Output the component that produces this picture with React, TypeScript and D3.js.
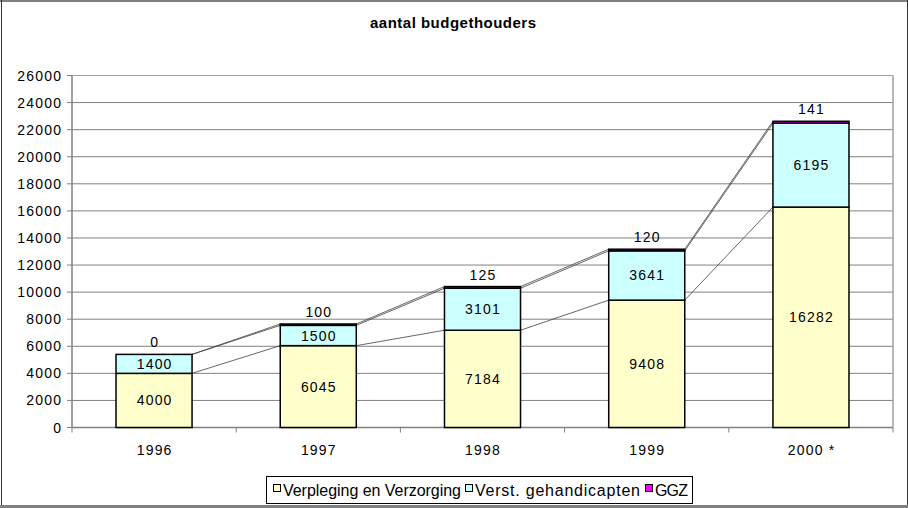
import React from "react";
import * as d3 from "d3";

const categories = ["1996", "1997", "1998", "1999", "2000 *"];
const seriesNames = ["Verpleging en Verzorging", "Verst. gehandicapten", "GGZ"];
const vv = [4000, 6045, 7184, 9408, 16282];
const vg = [1400, 1500, 3101, 3641, 6195];
const ggz = [0, 100, 125, 120, 141];
const yTicks = [0, 2000, 4000, 6000, 8000, 10000, 12000, 14000, 16000, 18000, 20000, 22000, 24000, 26000];
const colors = ["#ffffcc", "#ccffff", "#ff00ff"];

const W = 908, H = 508;
const plot = { left: 72, right: 893, top: 75.5, bottom: 427.5 };
const font = "'Liberation Sans', Arial, Helvetica, sans-serif";

export default function App() {
  const series = [vv, vg, ggz];
  const x = d3.scaleBand<string>().domain(categories).range([plot.left, plot.right]).paddingInner(0.537).paddingOuter(0.268);
  const y = d3.scaleLinear().domain([0, 26000]).range([plot.bottom, plot.top]);
  const bw = x.bandwidth();
  const stacks = categories.map((_, i) => {
    let acc = 0;
    return series.map((s) => {
      const y0 = acc;
      acc += s[i];
      return { y0, y1: acc, v: s[i] };
    });
  });
  const step = (plot.right - plot.left) / categories.length;
  const legendItems = [
    { name: seriesNames[0], x: 273.5, tx: 283, tl: 178 },
    { name: seriesNames[1], x: 465.5, tx: 475, tl: 165 },
    { name: seriesNames[2], x: 645.5, tx: 655, tl: 33 },
  ];
  const ls = 1.2;
  return (
    <svg width={W} height={H} style={{ position: "absolute", left: 0, top: 0, fontFamily: font }}>
      <rect x={0} y={0} width={W} height={H} fill="#fff" />
      {/* outer frame */}
      <line x1={0} y1={1} x2={W} y2={1} stroke="#808080" strokeWidth={2} />
      <line x1={0} y1={H - 1.5} x2={W} y2={H - 1.5} stroke="#808080" strokeWidth={3} />
      <line x1={1.5} y1={0} x2={1.5} y2={H - 3} stroke="#333" strokeWidth={1} />
      <line x1={W - 0.5} y1={0} x2={W - 0.5} y2={H - 3} stroke="#333" strokeWidth={1} />
      <text x={370} y={28} fontSize={15} fontWeight="bold" textLength={166} lengthAdjust="spacing" fill="#000">aantal budgethouders</text>
      {/* gridlines */}
      {yTicks.map((t) => (
        <line key={t} x1={plot.left} x2={plot.right} y1={y(t)} y2={y(t)} stroke={t === 26000 ? "#a0a0a0" : "#808080"} strokeWidth={1} />
      ))}
      <line x1={plot.right} x2={plot.right} y1={plot.top} y2={plot.bottom} stroke="#a0a0a0" strokeWidth={1.5} />
      {/* y axis */}
      <line x1={plot.left} x2={plot.left} y1={plot.top} y2={plot.bottom} stroke="#808080" strokeWidth={1.5} />
      {yTicks.map((t) => (
        <g key={"yt" + t}>
          <line x1={plot.left - 5} x2={plot.left} y1={y(t)} y2={y(t)} stroke="#808080" />
          <text x={61 + ls} y={y(t) + 5} textAnchor="end" fontSize={14} letterSpacing={ls} fill="#000">{t}</text>
        </g>
      ))}
      {/* x axis */}
      <line x1={plot.left} x2={plot.right} y1={plot.bottom} y2={plot.bottom} stroke="#808080" strokeWidth={1.5} />
      {d3.range(categories.length + 1).map((k) => (
        <line key={"xt" + k} x1={plot.left + step * k} x2={plot.left + step * k} y1={plot.bottom} y2={plot.bottom + 5} stroke="#808080" />
      ))}
      {categories.map((c) => (
        <text key={"xl" + c} x={(x(c) as number) + bw / 2 + ls / 2} y={455} textAnchor="middle" fontSize={14} letterSpacing={ls} fill="#000">{c}</text>
      ))}
      {/* series lines */}
      {series.map((_, si) =>
        categories.slice(0, -1).map((c, i) => (
          <line key={"sl" + si + i}
            x1={(x(c) as number) + bw} y1={y(stacks[i][si].y1)}
            x2={x(categories[i + 1]) as number} y2={y(stacks[i + 1][si].y1)}
            stroke="#404040" strokeWidth={0.8} />
        ))
      )}
      {/* bars */}
      {categories.map((c, i) =>
        stacks[i].map((s, si) =>
          s.v > 0 ? (
            <rect key={"b" + i + si} x={x(c)} y={y(s.y1)} width={bw} height={y(s.y0) - y(s.y1)}
              fill={colors[si]} stroke="#000" strokeWidth={1.5} />
          ) : null
        )
      )}
      {/* labels */}
      {categories.map((c, i) =>
        stacks[i].map((s, si) => {
          const cx = (x(c) as number) + bw / 2 + ls / 2;
          const cy = si === 2 ? y(s.y1) - 12 : (y(s.y0) + y(s.y1)) / 2;
          return (
            <text key={"l" + i + si} x={cx} y={cy + 5} textAnchor="middle" fontSize={14} letterSpacing={ls} fill="#000">{s.v}</text>
          );
        })
      )}
      {/* legend */}
      <rect x={266.5} y={476.5} width={426} height={27} fill="#fff" stroke="#000" strokeWidth={1} />
      {legendItems.map((it, i) => (
        <g key={"lg" + i}>
          <rect x={it.x} y={484.5} width={7} height={7} fill={colors[i]} stroke="#000" strokeWidth={1} />
          <text x={it.tx} y={496} fontSize={16} textLength={it.tl} lengthAdjust="spacing" fill="#000">{it.name}</text>
        </g>
      ))}
    </svg>
  );
}
